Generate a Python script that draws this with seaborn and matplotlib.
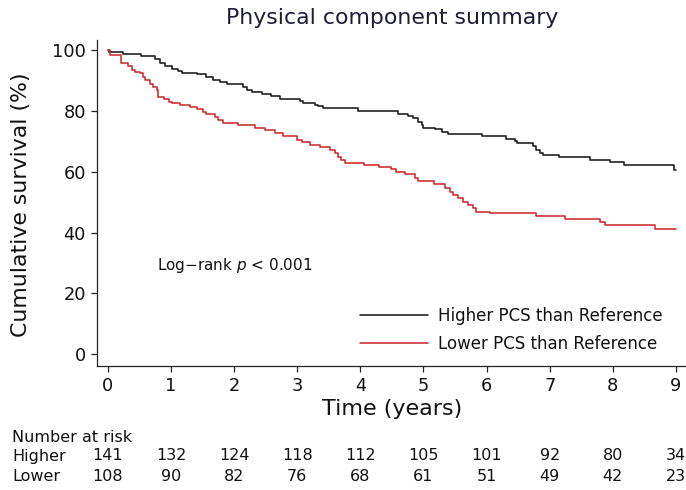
import numpy as np
import pandas as pd
import matplotlib
matplotlib.use("Agg")
import matplotlib.pyplot as plt
import matplotlib.transforms as mtransforms
import seaborn as sns

# Kaplan-Meier step estimates (time in years, survival in %)
higher_time = [0, 0.02, 0.24, 0.53, 0.74, 0.82, 0.90, 1.01, 1.11, 1.17, 1.41, 1.56, 1.67,
               1.77, 1.88, 2.14, 2.20, 2.28, 2.44, 2.59, 2.73, 3.04, 3.09, 3.28, 3.33, 3.41,
               3.96, 4.60, 4.76, 4.84, 4.92, 4.97, 5.00, 5.18, 5.29, 5.39, 5.92, 6.31, 6.45,
               6.48, 6.74, 6.79, 6.85, 6.90, 7.14, 7.64, 7.96, 8.17, 8.97, 9.00]
higher_surv = [100, 99.3, 98.7, 97.9, 96.9, 95.9, 94.8, 93.9, 93.2, 92.5, 92.0, 91.2, 90.3,
               89.6, 88.7, 87.9, 87.0, 86.3, 85.5, 84.8, 84.0, 83.4, 82.7, 82.1, 81.6, 81.0,
               79.8, 79.0, 78.4, 77.6, 76.5, 75.4, 74.5, 73.9, 73.1, 72.5, 71.8, 70.9, 70.2,
               69.4, 68.4, 67.3, 66.2, 65.5, 64.7, 63.8, 63.1, 62.3, 60.6, 60.6]

lower_time = [0, 0.03, 0.21, 0.32, 0.38, 0.43, 0.51, 0.56, 0.59, 0.67, 0.72, 0.77, 0.80,
              0.88, 0.96, 1.01, 1.14, 1.30, 1.41, 1.51, 1.56, 1.69, 1.75, 1.83, 2.06, 2.33,
              2.49, 2.65, 2.78, 2.99, 3.07, 3.20, 3.36, 3.52, 3.60, 3.65, 3.70, 3.75, 4.05,
              4.30, 4.49, 4.57, 4.71, 4.87, 4.92, 5.16, 5.34, 5.42, 5.47, 5.55, 5.63, 5.71,
              5.79, 5.84, 6.05, 6.79, 7.24, 7.80, 7.88, 8.67, 9.00]
lower_surv = [100, 98.4, 95.6, 94.7, 93.6, 92.9, 92.3, 91.2, 90.1, 89.0, 87.9, 86.8, 84.6,
              83.8, 83.0, 82.5, 81.9, 81.4, 80.6, 79.7, 78.9, 78.0, 76.9, 76.0, 75.3, 74.3,
              73.6, 72.7, 71.6, 70.5, 69.7, 68.8, 68.0, 67.1, 66.0, 64.9, 63.8, 63.0, 62.3,
              61.7, 61.0, 60.0, 59.1, 58.1, 57.0, 56.1, 54.6, 53.5, 52.4, 51.3, 50.2, 49.1,
              48.0, 46.9, 46.4, 45.5, 44.4, 43.6, 42.5, 41.2, 41.2]

group_labels = ["Higher PCS than Reference", "Lower PCS than Reference"]
risk_times = [0, 1, 2, 3, 4, 5, 6, 7, 8, 9]
risk_higher = [141, 132, 124, 118, 112, 105, 101, 92, 80, 34]
risk_lower = [108, 90, 82, 76, 68, 61, 51, 49, 42, 23]
y_ticks = [0, 20, 40, 60, 80, 100]

df = pd.concat([
    pd.DataFrame({"time": higher_time, "surv": higher_surv, "group": group_labels[0]}),
    pd.DataFrame({"time": lower_time, "surv": lower_surv, "group": group_labels[1]}),
])

sns.set_theme(style="ticks")
plt.rcParams["font.family"] = ["DejaVu Sans"]

W, H = 686, 490
fig = plt.figure(figsize=(W / 100, H / 100), dpi=100)
ax = fig.add_axes([97 / W, 1 - 366 / H, 1 - 97 / W, (366 - 40) / H])

palette = {group_labels[0]: "#1a1a1a", group_labels[1]: "#cc2a2e"}
sns.lineplot(data=df, x="time", y="surv", hue="group", palette=palette,
             drawstyle="steps-post", estimator=None, linewidth=1.15, ax=ax, legend=False)

ax.set_xlim(-0.174, 9.16)
ax.set_ylim(-3.85, 103.3)
ax.set_xticks(risk_times)
ax.set_yticks(y_ticks)
ax.tick_params(axis="both", direction="out", length=4, width=0.9, colors="#222222",
               labelsize=12.8, pad=4, labelcolor="#111111")
for side in ("top", "right"):
    ax.spines[side].set_visible(False)
for side in ("left", "bottom"):
    ax.spines[side].set_linewidth(0.9)
    ax.spines[side].set_color("#222222")

ax.set_ylabel("Cumulative survival (%)", fontsize=15.8, color="#111111")
ax.yaxis.set_label_coords(-0.112, 0.495)
ax.set_xlabel("Time (years)", fontsize=16, color="#111111")
ax.xaxis.set_label_coords(0.501, -0.1)

fig.text(392 / W, 1 - 18 / H, "Physical component summary", ha="center", va="center",
         fontsize=15.8, color="#1d1d3a")

ax.text(0.78, 29.3, r"Log$-$rank $\it{p}$ < 0.001", ha="left", va="center",
        fontsize=11, color="#111111")

handles = ax.get_lines()[:2]
leg = ax.legend(handles, group_labels, frameon=False, loc="center left",
                bbox_to_anchor=(360 / W, 1 - 330 / H), bbox_transform=fig.transFigure,
                fontsize=12, handlelength=4.1, handletextpad=0.6, labelspacing=0.6,
                borderpad=0, borderaxespad=0)
for t in leg.get_texts():
    t.set_color("#111111")

# Number-at-risk table under the axis
blend = mtransforms.blended_transform_factory(ax.transData, fig.transFigure)
fig.text(12 / W, 1 - 437 / H, "Number at risk", ha="left", va="center", fontsize=11.5,
         color="#111111")
fig.text(12 / W, 1 - 456 / H, "Higher", ha="left", va="center", fontsize=11.5,
         color="#111111")
fig.text(12 / W, 1 - 476 / H, "Lower", ha="left", va="center", fontsize=11.5,
         color="#111111")
for t, nh, nl in zip(risk_times, risk_higher, risk_lower):
    ax.text(t, 1 - 456 / H, str(nh), transform=blend, ha="center", va="center",
            fontsize=11.5, color="#111111", clip_on=False)
    ax.text(t, 1 - 476 / H, str(nl), transform=blend, ha="center", va="center",
            fontsize=11.5, color="#111111", clip_on=False)

fig.savefig("out.png", dpi=100)
